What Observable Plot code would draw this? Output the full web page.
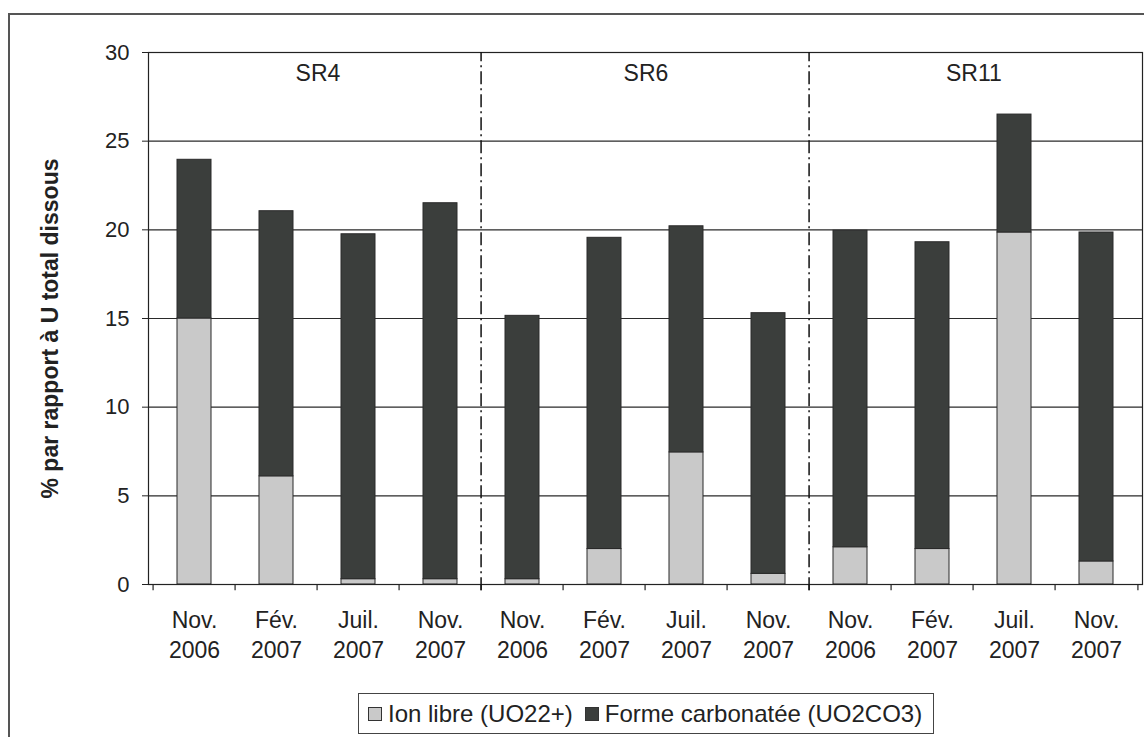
<!DOCTYPE html>
<html>
<head>
<meta charset="utf-8">
<script src="https://cdn.jsdelivr.net/npm/d3@7"></script>
<script src="https://cdn.jsdelivr.net/npm/@observablehq/plot@0.6"></script>
<style>
  html, body { margin: 0; padding: 0; background: #fff; overflow: hidden; width: 1144px; height: 737px; }
  #frame { position: absolute; left: 8px; top: 13px; width: 1160px; height: 740px; border: 2px solid #555; box-sizing: border-box; }
  #chart { position: absolute; left: 0; top: 0; }
  #legend { position: absolute; left: 358px; top: 693px; width: 576px; height: 41px; box-sizing: border-box;
            border: 1.5px solid #444; background: #fff; display: flex; align-items: center; padding-left: 9px;
            font-family: "Liberation Sans", Arial, sans-serif; font-size: 24px; color: #222; white-space: nowrap; }
  .sw { display: inline-block; width: 12px; height: 12px; border: 1.5px solid #333; margin-right: 6px; }
  .item { display: flex; align-items: center; margin-right: 12px; }
</style>
</head>
<body>
<div id="frame"></div>
<div id="chart"></div>
<div id="legend"></div>
<script>
const sites = ["SR4", "SR6", "SR11"];
const dates = ["Nov.\n2006", "Fév.\n2007", "Juil.\n2007", "Nov.\n2007"];
const series = ["Ion libre (UO22+)", "Forme carbonatée (UO2CO3)"];
// values in % (12 bars: SR4 x4, SR6 x4, SR11 x4)
const ionLibre   = [15.0, 6.1, 0.3, 0.3,   0.3, 2.0, 7.45, 0.6,   2.1, 2.0, 19.85, 1.3];
const carbonatee = [8.95, 14.95, 19.45, 21.2,   14.85, 17.55, 12.75, 14.7,   17.85, 17.3, 6.65, 18.55];
const yTicks = [0, 5, 10, 15, 20, 25, 30];
const colors = ["#c9c9c9", "#3b3e3c"];
const yLabel = "% par rapport à U total dissous";

const keys = [];
sites.forEach(s => dates.forEach(d => keys.push(s + "|" + d)));
const rows = [];
keys.forEach((k, i) => {
  rows.push({key: k, serie: series[0], value: ionLibre[i]});
  rows.push({key: k, serie: series[1], value: carbonatee[i]});
});

const W = 1144, H = 660, ML = 148, MR = 2, MT = 52, MB = 76;
const step = (W - ML - MR) / keys.length;
const font = '"Liberation Sans", Arial, sans-serif';

const chart = Plot.plot({
  width: W, height: H,
  marginLeft: ML, marginRight: MR, marginTop: MT, marginBottom: MB,
  style: {fontFamily: font, background: "transparent", color: "#222", overflow: "visible"},
  x: {domain: keys, paddingInner: 0.58, paddingOuter: 0.29, axis: null},
  y: {domain: [0, 30], axis: null},
  color: {domain: series, range: colors},
  marks: [
    Plot.ruleY(yTicks.filter(t => t > 0), {stroke: "#2a2a2a", strokeWidth: 1.1}),
    Plot.barY(rows, {x: "key", y: "value", fill: "serie", stroke: "#2a2a2a", strokeWidth: 1}),
    Plot.frame({stroke: "#222", strokeWidth: 1.2}),
    Plot.ruleY([0], {stroke: "#222", strokeWidth: 1.2}),
    // boundary ticks below the x axis
    Plot.ruleX(keys, {x: d => d, dx: -step / 2, y1: 0, y2: -0.35, stroke: "#222", strokeWidth: 1.2}),
    Plot.ruleX([keys[keys.length - 1]], {x: d => d, dx: step / 2, y1: 0, y2: -0.35, stroke: "#222", strokeWidth: 1.2}),
    // site separators
    Plot.ruleX([keys[4], keys[8]], {x: d => d, dx: -step / 2, y1: -0.35, y2: 30, stroke: "#111", strokeWidth: 1.5, strokeDasharray: "13,4,2,4"}),
    // site labels
    Plot.text(sites, {x: (s, i) => keys[i * 4 + 1], y: 30, dx: step / 2, dy: 21, text: d => d, fontSize: 23, fill: "#222"}),
    Plot.axisX({domain: keys, tickSize: 0, tickPadding: 22, fontSize: 23, lineHeight: 1.3,
      tickFormat: k => k.split("|")[1], label: null}),
    Plot.axisY({ticks: yTicks, tickSize: 6, tickPadding: 13, fontSize: 22, label: null, tickFormat: d => String(d)}),
    Plot.text([yLabel], {frameAnchor: "left", rotate: -90, dx: -98, dy: 10, text: d => d, textAnchor: "middle",
      fontSize: 23, fontWeight: "bold", fill: "#222"})
  ]
});
document.getElementById("chart").appendChild(chart);

const legend = document.getElementById("legend");
series.forEach((s, i) => {
  const item = document.createElement("span");
  item.className = "item";
  const sw = document.createElement("span");
  sw.className = "sw";
  sw.style.background = colors[i];
  item.appendChild(sw);
  item.appendChild(document.createTextNode(s));
  legend.appendChild(item);
});
</script>
</body>
</html>
